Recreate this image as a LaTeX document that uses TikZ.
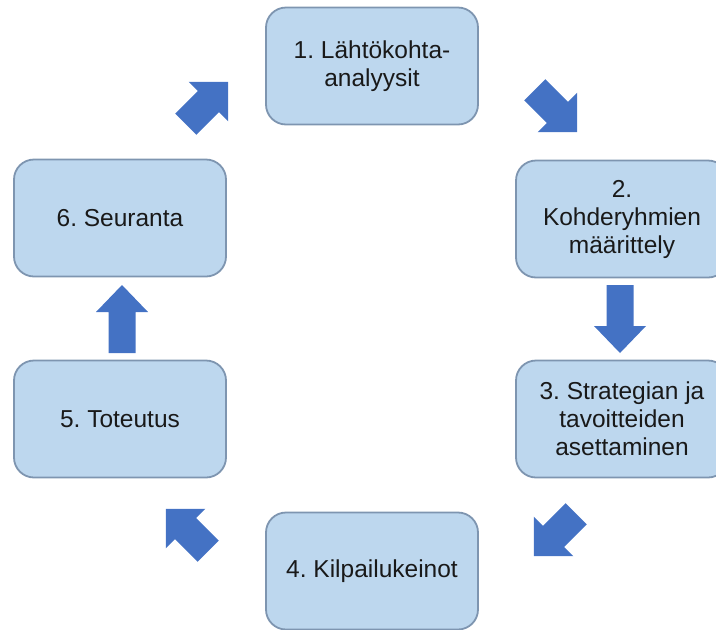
\documentclass[tikz,border=0pt]{standalone}
\usepackage{fontspec}
\setmainfont{Liberation Sans}
\definecolor{boxfill}{HTML}{BDD7EE}
\definecolor{boxline}{HTML}{7E95B0}
\definecolor{arrowfill}{HTML}{4472C4}
\tikzset{
  stagebox/.style={draw=boxline, line width=1.8pt, fill=boxfill, rounded corners=20pt,
    minimum width=212pt, minimum height=117pt, align=center, inner sep=0pt,
    font=\fontsize{24.5pt}{28pt}\selectfont\frenchspacing, text=black!90},
  % straight block arrow, pointing along +x
  flowarrow/.pic={
    \fill[arrowfill] (-34,-13.5) -- (7,-13.5) -- (7,-26) -- (34,0) -- (7,26) -- (7,13.5) -- (-34,13.5) -- cycle;
  },
  % shorter, stouter block arrow used on the diagonals
  diagarrow/.pic={
    \fill[arrowfill] (-30,-15) -- (2,-15) -- (2,-28) -- (30,0) -- (2,28) -- (2,15) -- (-30,15) -- cycle;
  }
}
\begin{document}
\begin{tikzpicture}[x=1pt, y=-1pt]
  \useasboundingbox (0,0) rectangle (716,630);
  % the six stages of the cycle
  \node[stagebox] (s1) at (372,66)  {1. Lähtökohta-\\analyysit};
  \node[stagebox] (s2) at (622,219) {2.\\Kohderyhmien\\määrittely};
  \node[stagebox] (s3) at (622,419) {3. Strategian ja\\tavoitteiden\\asettaminen};
  \node[stagebox] (s4) at (372,571) {4. Kilpailukeinot};
  \node[stagebox] (s5) at (120,419) {5. Toteutus};
  \node[stagebox] (s6) at (120,218) {6. Seuranta};
  % block arrows between the stages
  \pic[rotate=-45]  at (556,111) {diagarrow};
  \pic[rotate=-90]  at (620,319) {flowarrow};
  \pic[rotate=-135] at (555,535) {diagarrow};
  \pic[rotate=135]  at (187,530) {diagarrow};
  \pic[rotate=90]   at (122,319) {flowarrow};
  \pic[rotate=45]   at (207,103) {diagarrow};
\end{tikzpicture}
\end{document}
